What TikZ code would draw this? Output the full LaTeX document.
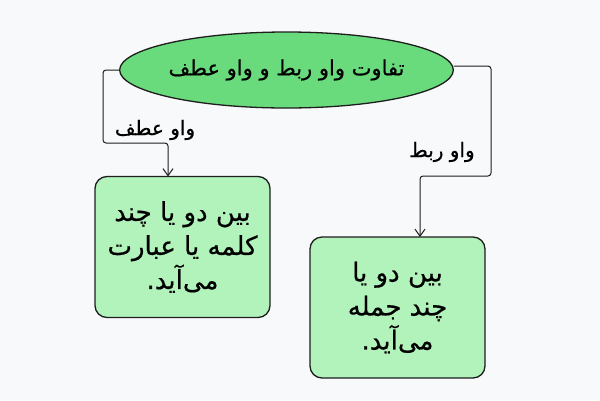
\documentclass[tikz,border=0pt]{standalone}
\usepackage{fontspec}
\usetikzlibrary{shapes.geometric,arrows.meta}
\TeXXeTstate=1
\newfontfamily\arabicfont[Script=Arabic,FakeBold=0.6]{DejaVu Sans}
\definecolor{bg}{HTML}{F8F9FA}
\definecolor{stroke}{HTML}{1E1E1E}
\definecolor{ellfill}{HTML}{69DB7C}
\definecolor{boxfill}{HTML}{B2F2BB}
\tikzset{
  ellnode/.style={ellipse, draw=stroke, line width=1.3pt, fill=ellfill, minimum width=322pt, minimum height=76pt, inner sep=0pt, font=\arabicfont\fontsize{21}{24}\selectfont},
  boxnode/.style={rectangle, rounded corners=12pt, draw=stroke, line width=1.3pt, fill=boxfill, minimum width=175pt, minimum height=141pt, align=center, inner sep=0pt, font=\arabicfont\fontsize{26}{34}\selectfont},
  conn/.style={draw=stroke, line width=1pt, rounded corners=3pt, -{Straight Barb[length=7pt,width=10pt]}},
  lbl/.style={font=\arabicfont\fontsize{20}{22}\selectfont, text=black, inner sep=0pt}
}
\begin{document}
\begin{tikzpicture}[x=1pt,y=-1pt]
\fill[bg] (0,0) rectangle (600,400);
\useasboundingbox (0,0) rectangle (600,400);
\node[ellnode] (title) at (286.5,70) {\beginR تفاوت واو ربط و واو عطف\endR};
\node[boxnode] (left) at (182.5,247) {\beginR بین دو یا چند\endR\\ \beginR کلمه یا عبارت\endR\\ \beginR می‌آید.\endR};
\node[boxnode] (right) at (397.5,307.5) {\beginR بین دو یا\endR\\ \beginR چند جمله\endR\\ \beginR می‌آید.\endR};
\coordinate (l1) at (103,70);
\coordinate (l2) at (103,143);
\coordinate (r1) at (491,66);
\coordinate (r2) at (491,176);
\draw[conn] (title.west) -- (l1) -- (l2) -- (168,143) -- (168,176.5);
\draw[conn] (title.east |- r1) -- (r1) -- (r2) -- (420,176) -- (420,237);
\node[lbl] (la) at (155,130) {\beginR واو عطف\endR};
\node[lbl] (lb) at (442,152) {\beginR واو ربط\endR};
\end{tikzpicture}
\end{document}
